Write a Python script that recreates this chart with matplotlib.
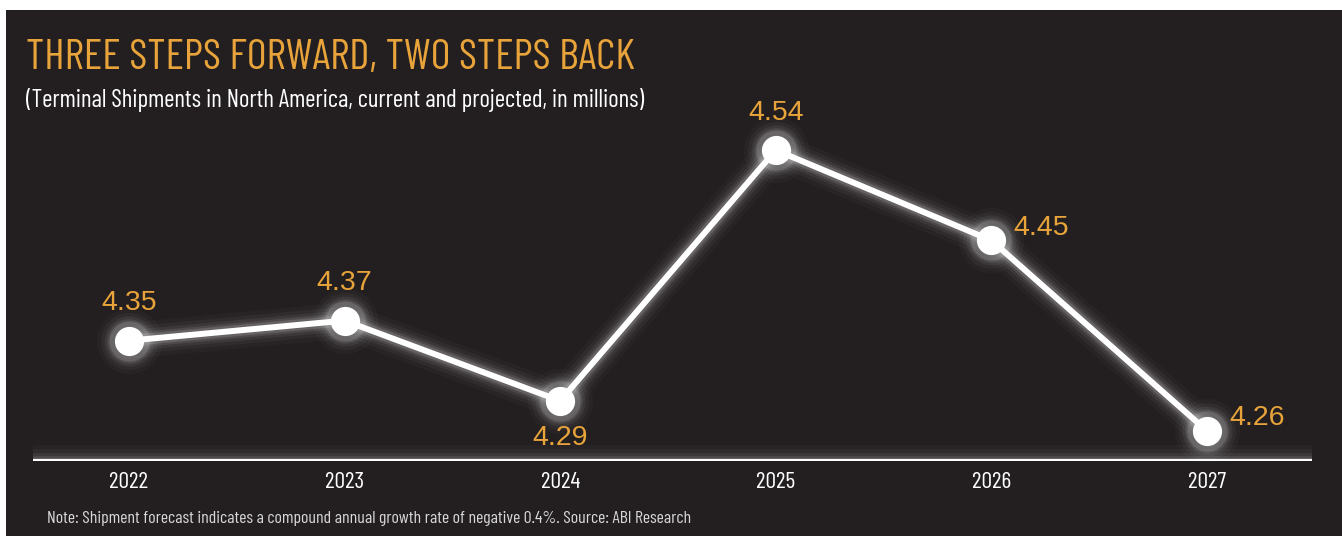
import matplotlib
matplotlib.use("Agg")
import matplotlib.pyplot as plt

years = ["2022", "2023", "2024", "2025", "2026", "2027"]
shipments = [4.35, 4.37, 4.29, 4.54, 4.45, 4.26]
# where each value label sits relative to its point
label_pos = ["above", "above", "below", "above", "right", "right"]

title = "THREE STEPS FORWARD, TWO STEPS BACK"
subtitle = "(Terminal Shipments in North America, current and projected, in millions)"
note = "Note: Shipment forecast indicates a compound annual growth rate of negative 0.4%. Source: ABI Research"

bg = "#231f20"
gold = "#e8a43b"
narrow = ["Barlow Condensed", "Archivo Narrow", "DejaVu Sans"]

fig = plt.figure(figsize=(13.42, 5.36), dpi=100)
fig.patch.set_facecolor("white")
# dark panel
fig.patches.append(plt.Rectangle((6 / 1342, 0), 1, 1 - 10 / 536, transform=fig.transFigure,
                                 facecolor=bg, edgecolor="none", zorder=0))

ax = fig.add_axes([33 / 1342, 75 / 536, 1279 / 1342, 361 / 536])
ax.set_zorder(2)
ax.set_facecolor("none")
x = list(range(len(years)))
base = 4.230

# glow
for lw, a in [(26, 0.025), (20, 0.04), (15, 0.06), (11, 0.09), (8, 0.14)]:
    ax.plot(x, shipments, color="white", lw=lw, alpha=a, solid_capstyle="round", zorder=2)
    ax.plot(x, shipments, "o", color="white", ms=21 + lw, alpha=a, mec="none", zorder=2)
    ax.axhline(base, color="white", lw=lw - 3, alpha=a, zorder=2)
ax.plot(x, shipments, color="white", lw=4.3, zorder=3)
ax.plot(x, shipments, "o", color="white", ms=21, mec="none", zorder=4)
ax.axhline(base, color="white", lw=3.6, zorder=3)

for xi, v, pos in zip(x, shipments, label_pos):
    if pos == "above":
        off, ha = (0, 27), "center"
    elif pos == "below":
        off, ha = (0, -27), "center"
    else:
        off, ha = (16, 9), "left"
    ax.annotate(f"{v:.2f}", (xi, v), xytext=off, textcoords="offset points",
                ha=ha, va="center", color=gold, fontsize=20.5,
                family=["Liberation Sans", "DejaVu Sans"], zorder=5)

ax.set_xlim(-0.445, 5.487)
ax.set_ylim(base, 4.59)
ax.set_xticks(x)
ax.set_xticklabels(years, color="white", fontsize=17, family=narrow)
ax.tick_params(axis="x", length=0, pad=8)
ax.set_yticks([])
for s in ax.spines.values():
    s.set_visible(False)

fig.text(26 / 1342, 1 - 58 / 536, title, color=gold, fontsize=31, family=narrow,
         va="center")
fig.text(26 / 1342, 1 - 100 / 536, subtitle, color="white", fontsize=18, family=narrow, va="center")
fig.text(47 / 1342, 1 - 518 / 536, note, color="#d8d8d8", fontsize=12.8, family=narrow, va="center")

fig.savefig("out.png", dpi=100, facecolor=fig.get_facecolor())
